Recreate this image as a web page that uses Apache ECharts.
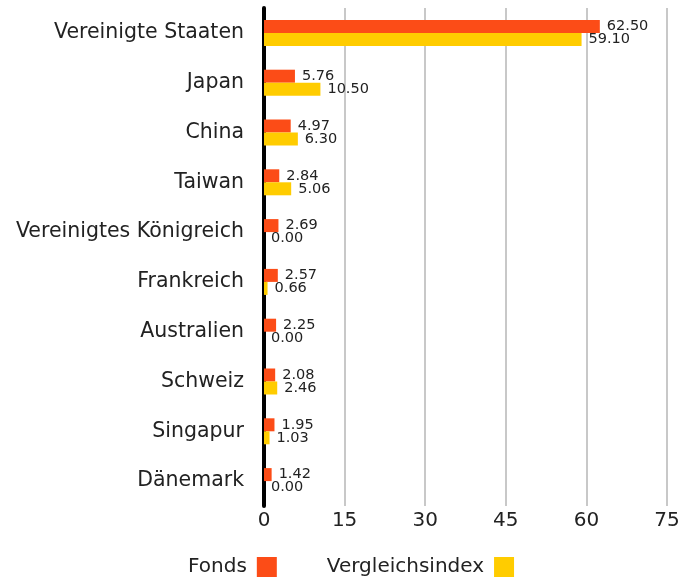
<!DOCTYPE html>
<html><head><meta charset="utf-8">
<script src="https://cdn.jsdelivr.net/npm/echarts@6/dist/echarts.min.js"></script>
<style>html,body{margin:0;padding:0;background:#fff}#c{width:697px;height:581px}</style>
</head><body><div id="c"></div>
<script>
var categories = ["Vereinigte Staaten","Japan","China","Taiwan","Vereinigtes Königreich","Frankreich","Australien","Schweiz","Singapur","Dänemark"];
var fonds = [62.50,5.76,4.97,2.84,2.69,2.57,2.25,2.08,1.95,1.42];
var index = [59.10,10.50,6.30,5.06,0.00,0.66,0.00,2.46,1.03,0.00];
var seriesNames = ["Fonds","Vergleichsindex"];
var xTicks = [0,15,30,45,60,75];

var font = "DejaVu Sans";
var chart = echarts.init(document.getElementById('c'));
chart.setOption({
  animation:false,
  textStyle:{fontFamily:font},
  grid:{left:264,right:30,top:8,height:498},
  legend:{
    top:552,left:183,itemWidth:20,itemHeight:20,itemGap:50,align:'right',
    icon:'rect',
    textStyle:{fontSize:20,color:'#222',fontFamily:font,padding:[0,5,0,0]},
    data:seriesNames
  },
  xAxis:{type:'value',min:xTicks[0],max:xTicks[xTicks.length-1],interval:15,
    axisLine:{show:false},axisTick:{show:false},
    axisLabel:{fontSize:20,color:'#222',margin:5},
    splitLine:{lineStyle:{color:'#c8c8c8',width:2}}},
  yAxis:{type:'category',data:categories,inverse:true,
    axisLine:{lineStyle:{color:'#000',width:4}},axisTick:{show:false},
    axisLabel:{fontSize:20.5,color:'#222',margin:20,padding:[0,0,4,0]}},
  series:[
    {name:seriesNames[0],type:'bar',data:fonds,barWidth:13,barGap:'0%',
     itemStyle:{color:'#fc4c17'},
     label:{show:true,position:'right',distance:7,fontSize:14.5,color:'#222',formatter:function(p){return p.value.toFixed(2);}}},
    {name:seriesNames[1],type:'bar',data:index,barWidth:13,barGap:'0%',
     itemStyle:{color:'#ffcc00'},
     label:{show:true,position:'right',distance:7,fontSize:14.5,color:'#222',formatter:function(p){return p.value.toFixed(2);}}}
  ]
});
</script></body></html>
